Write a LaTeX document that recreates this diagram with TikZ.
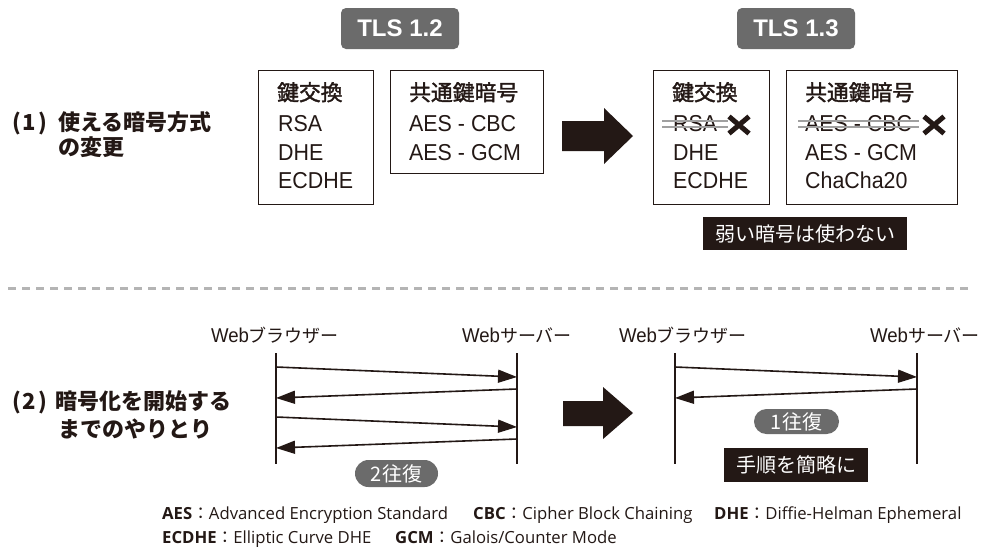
\documentclass[tikz,border=0pt]{standalone}
\usepackage{fontspec}
\setmainfont{Liberation Sans}[FakeStretch=0.93]
\newfontfamily\jp{Noto Sans CJK JP}
\newfontfamily\jpmed{Noto Sans CJK JP}[FakeBold=1.6]
\newfontfamily\notefont{Open Sans}
\newfontfamily\tlsfont{Liberation Sans}
\usetikzlibrary{arrows.meta}
\definecolor{ink}{HTML}{231815}
\definecolor{pillgray}{HTML}{6B6B6B}
\definecolor{strikegray}{HTML}{A0A0A0}
\definecolor{dashgray}{HTML}{B4B4B4}
\newcommand\setfs[1]{\fontsize{#1}{#1}\selectfont}
\tikzset{
  box/.style={draw=ink, line width=1.2pt, inner sep=0pt, anchor=north west},
  txt/.style={anchor=base west, inner sep=0pt, text=ink, font=\setfs{23}},
  jhead/.style={anchor=base west, inner sep=0pt, text=ink, font=\jpmed\setfs{21.8}},
  lbl/.style={anchor=base west, inner sep=0pt, text=ink, font=\jp\bfseries\setfs{22}},
  tlsbox/.style={fill=pillgray, rounded corners=5pt, text=white, font=\tlsfont\bfseries\setfs{24}, minimum width=118pt, minimum height=41pt, inner sep=0pt},
  blackbox/.style={fill=ink, text=white, font=\jp\setfs{20}, inner sep=0pt},
  pillbox/.style={fill=pillgray, text=white, font=\jp\setfs{20}, inner sep=0pt},
  hdr/.style={anchor=base, inner sep=0pt, text=ink, font=\setfs{20}},
  life/.style={draw=ink, line width=1.2pt},
  msg/.style={draw=ink, line width=1.6pt, -{Triangle[length=19pt,width=13pt]}},
  strikeline/.style={draw=strikegray, line width=2.2pt},
  xmark/.style={draw=ink, line width=5pt},
  dashline/.style={draw=dashgray, line width=3pt, dash pattern=on 8pt off 6pt},
  bigarrow/.style={fill=ink},
  note/.style={anchor=base west, inner sep=0pt, text=ink, font=\notefont\setfs{16.7}},
}
\begin{document}
\begin{tikzpicture}[x=1pt, y=-1pt]
\fill[white] (0,0) rectangle (1000,555);
\useasboundingbox (0,0) rectangle (1000,555);

% ---------- TLS labels
\node[tlsbox] (tls12) at (400,28.5) {TLS 1.2};
\node[tlsbox] (tls13) at (796,28.5) {TLS 1.3};

% ---------- section 1 label
\node[lbl] (p1) at (12,130.5) {(\hspace{2pt}1\hspace{2pt})};
\node[lbl] (s1a) at (58,130.5) {使える暗号方式};
\node[lbl] (s1b) at (58,155.5) {の変更};

% ---------- TLS 1.2 boxes
\node[box, minimum width=115pt, minimum height=134pt] (kx12) at (258,70) {};
\node[jhead] (kx12h) at (277,100.5) {鍵交換};
\node[txt] (kx12a) at (278,131.5) {RSA};
\node[txt] (kx12b) at (278,160) {DHE};
\node[txt] (kx12c) at (278,188.5) {ECDHE};

\node[box, minimum width=153pt, minimum height=103pt] (sk12) at (390,70) {};
\node[jhead] (sk12h) at (409,100.5) {共通鍵暗号};
\node[txt] (sk12a) at (409,131.5) {AES - CBC};
\node[txt] (sk12b) at (409,160) {AES - GCM};

% ---------- big arrow 1
\fill[bigarrow] (562,121) -- (604,121) -- (604,108) -- (633,136) -- (604,164) -- (604,151) -- (562,151) -- cycle;

% ---------- TLS 1.3 boxes
\node[box, minimum width=116pt, minimum height=134pt] (kx13) at (653,70) {};
\node[jhead] (kx13h) at (672,100.5) {鍵交換};
\node[txt] (kx13a) at (673,131.5) {RSA};
\node[txt] (kx13b) at (673,160) {DHE};
\node[txt] (kx13c) at (673,188.5) {ECDHE};

\node[box, minimum width=171pt, minimum height=134pt] (sk13) at (786,70) {};
\node[jhead] (sk13h) at (805,100.5) {共通鍵暗号};
\node[txt] (sk13a) at (805,131.5) {AES - CBC};
\node[txt] (sk13b) at (805,160) {AES - GCM};
\node[txt] (sk13c) at (805,188.5) {ChaCha20};

% strikes
\draw[strikeline] ([xshift=-11pt,yshift=10.5pt]kx13a.base west) -- ([xshift=11pt,yshift=10.5pt]kx13a.base east);
\draw[strikeline] ([xshift=-11pt,yshift=4.5pt]kx13a.base west) -- ([xshift=11pt,yshift=4.5pt]kx13a.base east);
\draw[strikeline] ([xshift=-7pt,yshift=10.5pt]sk13a.base west) -- ([xshift=7pt,yshift=10.5pt]sk13a.base east);
\draw[strikeline] ([xshift=-7pt,yshift=4.5pt]sk13a.base west) -- ([xshift=7pt,yshift=4.5pt]sk13a.base east);
\coordinate (x1) at (739,125);
\coordinate (x2) at (934,125);
\draw[xmark, shift={(x1)}] (-10,-8.5) -- (10,8.5) (-10,8.5) -- (10,-8.5);
\draw[xmark, shift={(x2)}] (-10,-8.5) -- (10,8.5) (-10,8.5) -- (10,-8.5);

\node[blackbox, minimum width=204pt, minimum height=33pt] (weak) at (805,233.5) {弱い暗号は使わない};

% ---------- separator
\coordinate (d1) at (8,288);
\coordinate (d2) at (970,288);
\draw[dashline] (d1) -- (d2);

% ---------- section 2 label
\node[lbl] (p2) at (12,409.5) {(\hspace{2pt}2\hspace{2pt})};
\node[lbl] (s2a) at (55,409.5) {暗号化を開始する};
\node[lbl] (s2b) at (58,437.5) {までのやりとり};

% ---------- TLS 1.2 handshake
\node[hdr] (wb1) at (275,342) {Web{\jp\setfs{18}ブラウザー}};
\node[hdr] (ws1) at (517,342) {Web{\jp\setfs{18}サーバー}};
\coordinate (l1t) at (276,353); \coordinate (l1b) at (276,464);
\coordinate (r1t) at (517,353); \coordinate (r1b) at (517,464);
\draw[life] (l1t) -- (l1b);
\draw[life] (r1t) -- (r1b);
\coordinate (a1s) at (276,367); \coordinate (a1e) at (517,377);
\coordinate (a2s) at (517,389); \coordinate (a2e) at (276,398);
\coordinate (a3s) at (276,417); \coordinate (a3e) at (517,427);
\coordinate (a4s) at (517,439); \coordinate (a4e) at (276,448);
\draw[msg] (a1s) -- (a1e);
\draw[msg] (a2s) -- (a2e);
\draw[msg] (a3s) -- (a3e);
\draw[msg] (a4s) -- (a4e);
\node[pillbox, minimum width=83pt, minimum height=27pt, rounded corners=13.5pt] (rt2) at (396.5,473.5) {2往復};

% ---------- big arrow 2
\fill[bigarrow] (563,401) -- (603,401) -- (603,387) -- (633,413) -- (603,439) -- (603,426) -- (563,426) -- cycle;

% ---------- TLS 1.3 handshake
\node[hdr] (wb2) at (683,342) {Web{\jp\setfs{18}ブラウザー}};
\node[hdr] (ws2) at (925,342) {Web{\jp\setfs{18}サーバー}};
\coordinate (l2t) at (675,353); \coordinate (l2b) at (675,464);
\coordinate (r2t) at (917,353); \coordinate (r2b) at (917,464);
\draw[life] (l2t) -- (l2b);
\draw[life] (r2t) -- (r2b);
\coordinate (b1s) at (675,367); \coordinate (b1e) at (917,377);
\coordinate (b2s) at (917,389); \coordinate (b2e) at (675,398);
\draw[msg] (b1s) -- (b1e);
\draw[msg] (b2s) -- (b2e);
\node[pillbox, minimum width=85pt, minimum height=25pt, rounded corners=12.5pt] (rt1) at (796.5,421.5) {1往復};
\node[blackbox, minimum width=144pt, minimum height=34pt] (simp) at (796,465) {手順を簡略に};

% ---------- footnotes
\node[note] (f1) at (162,519) {{\bfseries AES}{\jp ：}Advanced Encryption Standard};
\node[note] (f2) at (473,519) {{\bfseries CBC}{\jp ：}Cipher Block Chaining};
\node[note] (f3) at (714,519) {{\bfseries DHE}{\jp ：}Diffie-Helman Ephemeral};
\node[note] (f4) at (162,543) {{\bfseries ECDHE}{\jp ：}Elliptic Curve DHE};
\node[note] (f5) at (395,543) {{\bfseries GCM}{\jp ：}Galois/Counter Mode};
\end{tikzpicture}
\end{document}
